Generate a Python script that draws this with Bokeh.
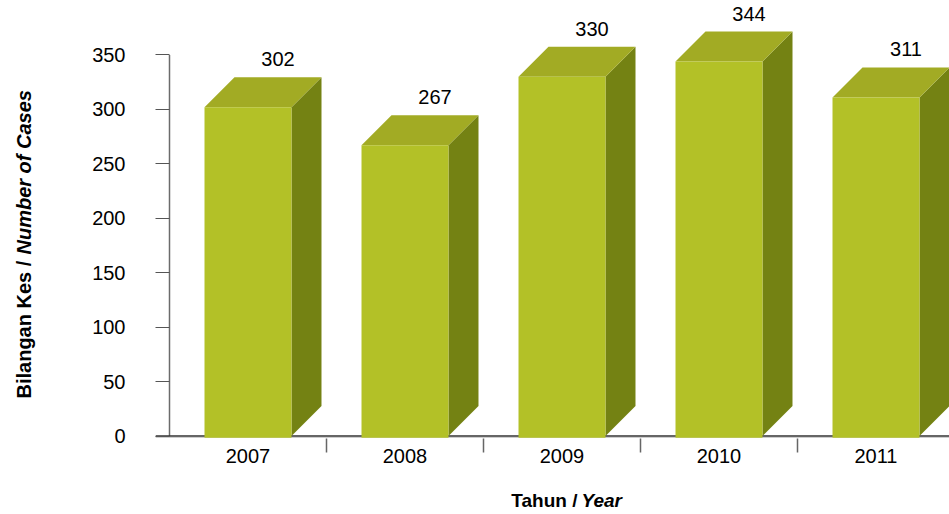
import math
from bokeh.plotting import figure
from bokeh.layouts import row, column
from bokeh.models import Range1d, FixedTicker
from bokeh.core.properties import value
from bokeh.embed import file_html
from bokeh.resources import INLINE

# ---- data ----
years = ["2007", "2008", "2009", "2010", "2011"]
cases = [302, 267, 330, 344, 311]
y_ticks = [0, 50, 100, 150, 200, 250, 300, 350]
y_title_a = "Bilangan Kes /"
y_title_b = "Number of Cases"
x_title_a = "Tahun /"
x_title_b = "Year"

# ---- geometry / style constants ----
FONT = "Liberation Sans"
K = 1.0886            # px per unit (y)
CAT = 157.0           # px per category
DX = 30.0 / CAT       # depth in x units
DY = 30.0 / K         # depth in y units
HALF = 0.277          # half bar width (category units)
FRONT = "#B3C127"
TOP = "#A2AB24"
SIDE = "#748213"

LEFT_W = 48
MAIN_W = 901
MAIN_H = 478
FRAME_H = 438
TOTAL_W = LEFT_W + MAIN_W
TOTAL_H = 514


def bare(fig):
    fig.outline_line_color = None
    fig.xgrid.grid_line_color = None
    fig.ygrid.grid_line_color = None
    return fig


# ---- main chart ----
p = figure(width=MAIN_W, height=MAIN_H, output_backend="svg", toolbar_location=None,
           x_range=Range1d(-14 / CAT, 780 / CAT),
           y_range=Range1d(-2.5 / K, 435.5 / K),
           min_border_left=107, min_border_right=0,
           min_border_top=0, min_border_bottom=MAIN_H - FRAME_H)
bare(p)

# y axis
p.yaxis.ticker = FixedTicker(ticks=y_ticks, minor_ticks=[])
p.yaxis.axis_line_color = None
p.yaxis.major_tick_in = 14
p.yaxis.major_tick_out = 0
p.yaxis.major_tick_line_color = "#555555"
p.yaxis.major_label_standoff = 30
p.yaxis.major_label_text_font = FONT
p.yaxis.major_label_text_font_size = "20px"
p.yaxis.major_label_text_color = "black"

# x axis
centers = [i + 0.5 for i in range(len(years))]
seps = [i for i in range(1, len(years))]
p.xaxis.ticker = FixedTicker(ticks=centers, minor_ticks=seps)
p.xaxis.major_label_overrides = {c: y for c, y in zip(centers, years)}
p.xaxis.axis_line_color = None
p.xaxis.major_tick_in = 0
p.xaxis.major_tick_out = 0
p.xaxis.minor_tick_in = 0
p.xaxis.minor_tick_out = 14
p.xaxis.minor_tick_line_color = "#666666"
p.xaxis.minor_tick_line_width = 1.5
p.xaxis.major_label_standoff = -4
p.xaxis.major_label_text_font = FONT
p.xaxis.major_label_text_font_size = "20px"
p.xaxis.major_label_text_color = "black"

# axis lines
p.segment(x0=[0], y0=[0], x1=[0], y1=[y_ticks[-1]], line_color="#6b6b6b", line_width=1.5)
p.segment(x0=[p.x_range.start], y0=[-1.3], x1=[p.x_range.end], y1=[-1.3],
          line_color="#c8c8c8", line_width=1)
p.segment(x0=[p.x_range.start], y0=[0], x1=[p.x_range.end], y1=[0],
          line_color="#333333", line_width=1.5)

# bars
lefts = [c - HALF for c in centers]
rights = [c + HALF for c in centers]
side_xs = [[r, r + DX, r + DX, r] for r in rights]
side_ys = [[0, DY, v + DY, v] for v in cases]
top_xs = [[l, l + DX, r + DX, r] for l, r in zip(lefts, rights)]
top_ys = [[v, v + DY, v + DY, v] for v in cases]

p.patches(xs=side_xs, ys=side_ys, fill_color=SIDE, line_color=None)
p.patches(xs=top_xs, ys=top_ys, fill_color=TOP, line_color=None)
p.quad(left=lefts, right=rights, bottom=-1.6, top=cases, fill_color=FRONT, line_color=None)

# value labels
p.text(x=[c + DX for c in centers], y=[v + DY + 18 / K for v in cases],
       text=[str(v) for v in cases], text_font=value(FONT), text_font_size="20px",
       text_align="center", text_baseline="middle", text_color="black")

# ---- y title (left strip; frame = page rows 0..FRAME_H) ----
ly = figure(width=LEFT_W, height=MAIN_H, output_backend="svg", toolbar_location=None,
            x_range=Range1d(0, LEFT_W), y_range=Range1d(FRAME_H, 0),
            x_axis_location=None, y_axis_location=None,
            min_border_left=0, min_border_right=0,
            min_border_top=0, min_border_bottom=MAIN_H - FRAME_H)
bare(ly)
ly.text(x=[23], y=[398], text=[y_title_a], angle=math.pi / 2,
        text_font=value(FONT), text_font_size="20px", text_font_style="bold",
        text_align="left", text_baseline="middle", text_color="black")
ly.text(x=[23], y=[254], text=[y_title_b], angle=math.pi / 2,
        text_font=value(FONT), text_font_size="20px", text_font_style="bold italic",
        text_align="left", text_baseline="middle", text_color="black")

# ---- x title (bottom strip, full width) ----
bx = figure(width=TOTAL_W, height=TOTAL_H - MAIN_H, output_backend="svg", toolbar_location=None,
            x_range=Range1d(0, TOTAL_W), y_range=Range1d(TOTAL_H, MAIN_H),
            x_axis_location=None, y_axis_location=None,
            min_border=0)
bare(bx)
bx.text(x=[577], y=[500], text=[x_title_a],
        text_font=value(FONT), text_font_size="19px", text_font_style="bold",
        text_align="right", text_baseline="middle", text_color="black")
bx.text(x=[581], y=[500], text=[x_title_b],
        text_font=value(FONT), text_font_size="19px", text_font_style="bold italic",
        text_align="left", text_baseline="middle", text_color="black")

layout = column(row(ly, p, spacing=0), bx, spacing=0)

open("out.html", "w").write(file_html(layout, INLINE))
